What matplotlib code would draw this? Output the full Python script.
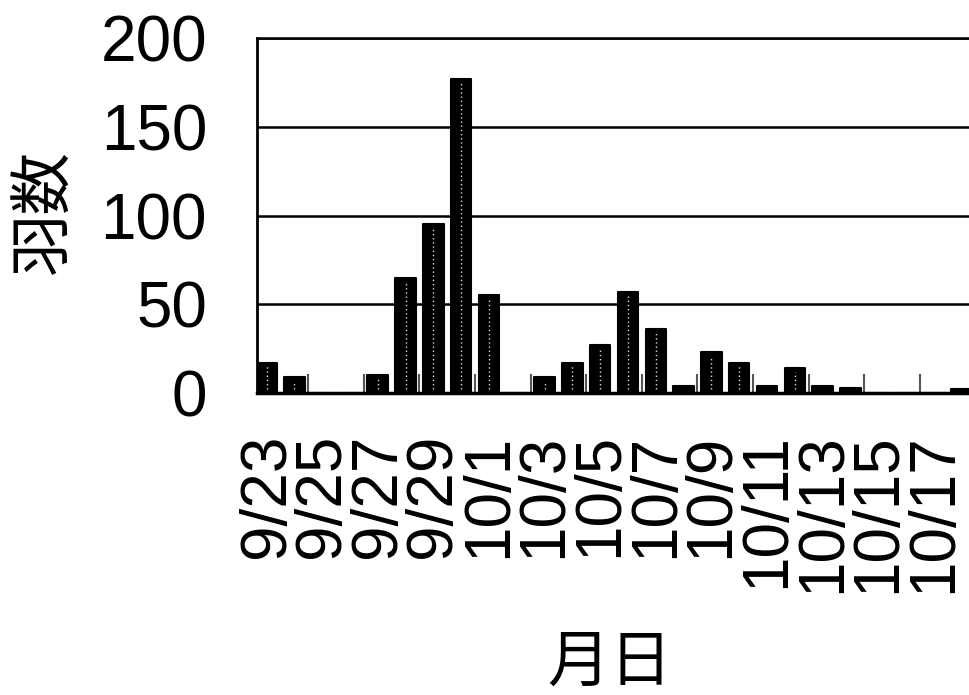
"""
渡り個体数の日別棒グラフ (9/23 - 10/18).
結果: out.png
"""
import numpy as np
import matplotlib
matplotlib.use('Agg')
import matplotlib.pyplot as plt

DATES = ['9/23', '9/24', '9/25', '9/26', '9/27', '9/28', '9/29', '9/30',
         '10/1', '10/2', '10/3', '10/4', '10/5', '10/6', '10/7', '10/8',
         '10/9', '10/10', '10/11', '10/12', '10/13', '10/14', '10/15',
         '10/16', '10/17', '10/18']
COUNTS = [17, 9, 0, 0, 10, 65, 95, 177,
          55, 0, 9, 17, 27, 57, 36, 4,
          23, 17, 4, 14, 4, 3, 0,
          0, 0, 2]
Y_TICKS = [0, 50, 100, 150, 200]
X_LABEL = '月日'
Y_LABEL = '羽数'

TICK_FONT = ['Liberation Sans', 'DejaVu Sans']
CJK_FONT = ['Noto Sans CJK JP', 'DejaVu Sans']


def draw(ax, x, counts):
    """棒 + 中央の点線 (印刷の網目風)."""
    ax.bar(x, counts, width=0.74, color='black', edgecolor='black',
           linewidth=1.5, joinstyle='round', zorder=3)
    tall = counts > 6
    ax.vlines(x[tall], 2, counts[tall] - 2, colors='#dddddd',
              linestyles=(0, (1, 2)), linewidth=1, zorder=4)


def main():
    x = np.arange(len(DATES))
    counts = np.array(COUNTS)

    fig = plt.figure(figsize=(9.7, 6.95), dpi=100)
    ax = fig.add_axes([0.265, 0.4345, 0.735, 0.5108])

    draw(ax, x, counts)

    ax.set_xlim(-0.34, 25.3)
    ax.set_ylim(0, 200)
    ax.set_yticks(Y_TICKS)
    ax.set_yticklabels([str(v) for v in Y_TICKS], fontfamily=TICK_FONT, fontsize=46)
    ax.yaxis.grid(True, color='black', linewidth=1.8)
    ax.set_axisbelow(True)

    # 奇数番目だけラベル, 目盛りは2日おきの境界
    ax.set_xticks(x[::2])
    ax.set_xticklabels(DATES[::2], rotation=90,
                       fontfamily=TICK_FONT, fontsize=46)
    ax.set_xticks(np.arange(1.5, 24, 2), minor=True)
    ax.tick_params(axis='x', which='major', length=0, pad=29)
    ax.tick_params(axis='x', which='minor', direction='in', length=14,
                   width=1.5, color='#555555')
    ax.tick_params(axis='y', length=0, pad=36)

    ax.spines['right'].set_visible(False)
    ax.spines['left'].set_linewidth(2)
    ax.spines['bottom'].set_linewidth(2.5)
    ax.spines['top'].set_linewidth(1.8)

    fig.text(0.046, 0.695, Y_LABEL, rotation=90, ha='center', va='center',
             fontfamily=CJK_FONT, fontsize=45)
    fig.text(0.629, 0.046, X_LABEL, ha='center', va='center',
             fontfamily=CJK_FONT, fontsize=45)

    fig.savefig('out.png', dpi=100)
    plt.close(fig)


if __name__ == '__main__':
    main()
